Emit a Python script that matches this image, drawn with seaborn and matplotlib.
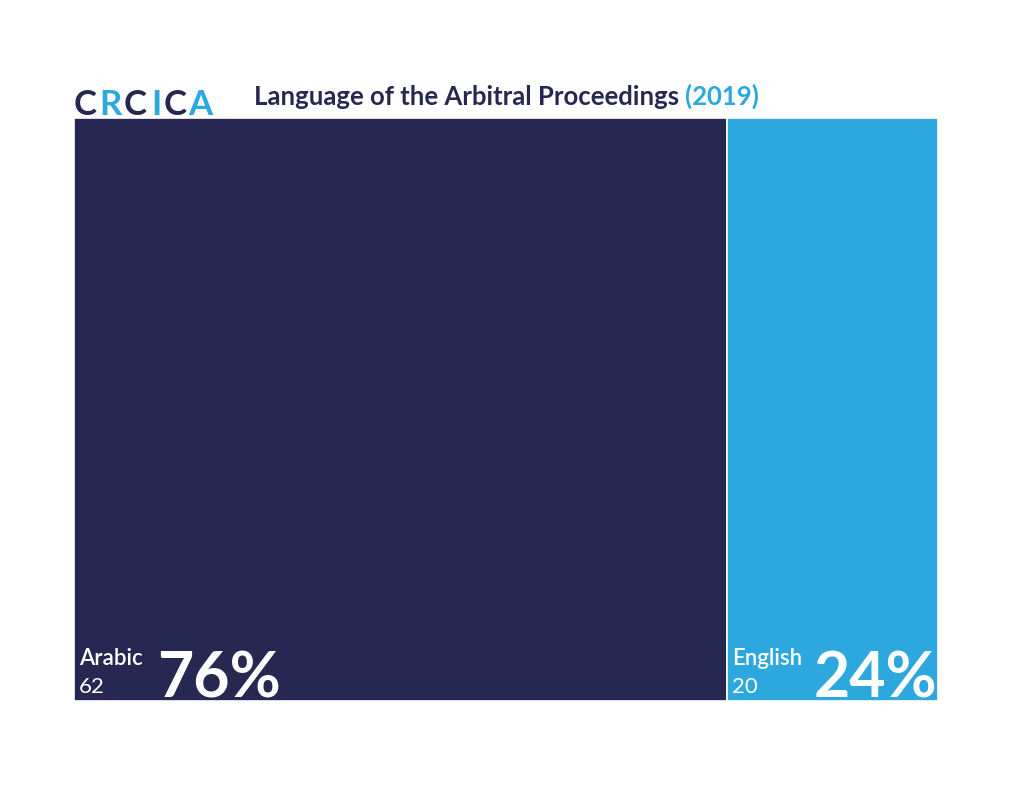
import numpy as np
import matplotlib
matplotlib.use("Agg")
import matplotlib.pyplot as plt
import seaborn as sns

languages = ["Arabic", "English"]
cases = [62, 20]
colors = ["#262852", "#2ca8de"]

sns.set_theme(style="white")
plt.rcParams["font.family"] = ["Lato", "DejaVu Sans"]

total = sum(cases)
lefts = np.concatenate([[0], np.cumsum(cases)[:-1]])
shares = [round(100 * c / total) for c in cases]

fig = plt.figure(figsize=(10.24, 7.91), dpi=100)
ax = fig.add_axes([74 / 1024, 90 / 791, 864 / 1024, 583 / 791])

ax.bar(lefts, [1] * len(cases), width=cases, align="edge",
       color=colors, edgecolor="white", linewidth=1.2)
ax.set_xlim(0, total)
ax.set_ylim(0, 1)
ax.axis("off")

px = 72 / 100  # points per pixel

# labels in the bottom corner of each tile
for i, (lang, n, pct) in enumerate(zip(languages, cases, shares)):
    x0 = lefts[i]
    ax.annotate(lang, (x0, 0), xytext=(5 * px, 36 * px), textcoords="offset points",
                color="white", fontsize=16, fontweight="semibold", ha="left", va="baseline")
    ax.annotate(str(n), (x0, 0), xytext=(5 * px, 8 * px), textcoords="offset points",
                color="white", fontsize=16, ha="left", va="baseline")
    if i == 0:
        ax.annotate(f"{pct}%", (x0, 0), xytext=(83 * px, 4 * px), textcoords="offset points",
                    color="white", fontsize=45, fontweight="bold", ha="left", va="baseline")
    else:
        ax.annotate(f"{pct}%", (x0 + n, 0), xytext=(-1 * px, 4 * px), textcoords="offset points",
                    color="white", fontsize=45, fontweight="bold", ha="right", va="baseline")

# logo
logo = "CRCICA"
logo_cols = ["#262852", "#2ca8de", "#262852", "#2ca8de", "#262852", "#2ca8de"]
logo_x = [85, 110, 135, 156, 175, 200]
for ch, c, x in zip(logo, logo_cols, logo_x):
    fig.text(x / 1024, 1 - 115 / 791, ch, color=c, fontsize=25,
             fontweight="bold", ha="center", va="baseline")

t = fig.text(254 / 1024, 1 - 105 / 791, "Language of the Arbitral Proceedings ",
             color="#262852", fontsize=18.5, fontweight="bold", ha="left", va="baseline")
fig.canvas.draw()
bb = t.get_window_extent()
fig.text(bb.x1 / 1024, 1 - 105 / 791, "(2019)", color="#2ca8de", fontsize=18.5,
         fontweight="bold", ha="left", va="baseline")

fig.savefig("out.png", dpi=100)
